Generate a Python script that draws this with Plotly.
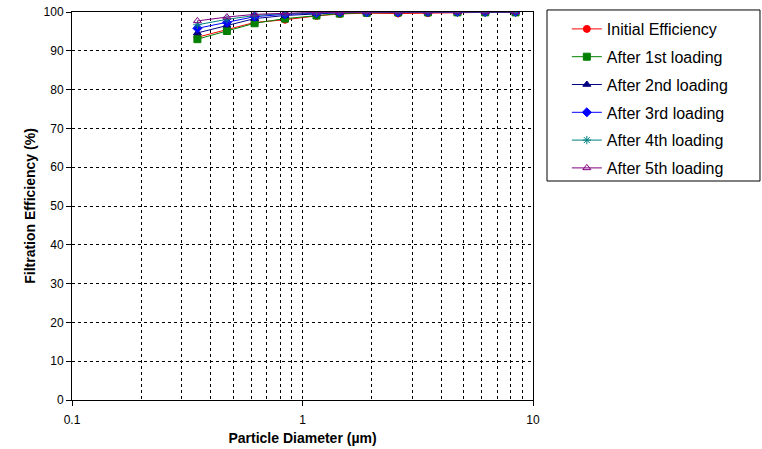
import plotly.graph_objects as go

diameter = [0.35, 0.47, 0.62, 0.84, 1.15, 1.45, 1.9, 2.6, 3.5, 4.7, 6.2, 8.4]
initial_eff = [93.5, 95.4, 97.3, 98.0, 99.0, 99.5, 99.7, 99.6, 99.7, 99.9, 99.9, 99.9]
after_1st = [93.0, 95.1, 97.1, 98.3, 99.1, 99.6, 99.8, 99.9, 99.9, 99.9, 99.9, 99.9]
after_2nd = [94.6, 96.6, 98.3, 99.1, 99.6, 99.8, 99.9, 99.9, 100, 100, 100, 100]
after_3rd = [95.8, 97.3, 98.8, 99.4, 99.7, 99.9, 99.9, 99.9, 100, 100, 100, 100]
after_4th = [96.7, 98.1, 99.1, 99.6, 99.8, 99.9, 99.9, 100, 100, 100, 100, 100]
after_5th = [97.7, 98.7, 99.4, 99.7, 99.9, 99.9, 100, 100, 100, 100, 100, 100]

series = [
    ("Initial Efficiency", initial_eff, "#FF0000", "circle"),
    ("After 1st loading", after_1st, "#008000", "square"),
    ("After 2nd loading", after_2nd, "#000080", "triangle-up"),
    ("After 3rd loading", after_3rd, "#0000FF", "diamond"),
    ("After 4th loading", after_4th, "#008080", "asterisk-open"),
    ("After 5th loading", after_5th, "#800080", "triangle-up-open"),
]

x_ticks = [0.1, 1, 10]
x_tick_text = ["0.1", "1", "10"]
x_minor = [0.2, 0.3, 0.4, 0.5, 0.6, 0.7, 0.8, 0.9, 1, 2, 3, 4, 5, 6, 7, 8, 9]
y_ticks = list(range(0, 101, 10))

fig = go.Figure()
for i, (name, vals, color, sym) in enumerate(series):
    fig.add_trace(go.Scatter(
        x=diameter, y=vals, name=name, mode="lines+markers",
        line=dict(color=color, width=1),
        marker=dict(symbol=sym, size=7, color=color,
                    line=dict(color=color, width=1)),
        legendgroup=f"g{i}",
    ))

# legend frame (wider than the auto-sized legend box)
fig.add_shape(type="rect", xref="paper", yref="paper",
              x0=1.0304, x1=1.4924, y0=0.5644, y1=1.0052,
              line=dict(color="black", width=1), fillcolor="rgba(0,0,0,0)",
              layer="above")

font_family = "Liberation Sans, Arial, sans-serif"
fig.update_layout(
    width=762, height=449,
    margin=dict(l=72, r=229, t=12, b=49),
    paper_bgcolor="white", plot_bgcolor="white",
    font=dict(family=font_family, size=12, color="black"),
    showlegend=True,
    legend=dict(
        x=1.03, y=1.0, xanchor="left", yanchor="top",
        borderwidth=0, bgcolor="rgba(0,0,0,0)",
        font=dict(size=16, family=font_family, color="black"),
        tracegroupgap=4, indentation=20,
    ),
    xaxis=dict(
        type="log", range=[-1, 1], automargin=False,
        tickmode="array", tickvals=x_ticks, ticktext=x_tick_text,
        ticks="outside", ticklen=5, tickcolor="black", ticklabelstandoff=4,
        ticklabeloverflow="allow",
        showline=True, linecolor="black", linewidth=1, mirror=True,
        showgrid=False, zeroline=False,
        minor=dict(tickmode="array", tickvals=x_minor, showgrid=True,
                   gridcolor="black", griddash="dot", gridwidth=1, ticks=""),
        title=dict(text="<b>Particle Diameter (µm)</b>", font=dict(size=14), standoff=6),
    ),
    yaxis=dict(
        range=[0, 100], tickmode="array", tickvals=y_ticks, automargin=False,
        ticks="outside", ticklen=5, tickcolor="black",
        ticklabeloverflow="allow",
        showline=True, linecolor="black", linewidth=1, mirror=True,
        showgrid=True, gridcolor="black", griddash="dot", gridwidth=1,
        zeroline=False,
        title=dict(text="<b>Filtration Efficiency (%)</b>", font=dict(size=14), standoff=4),
    ),
)

fig.write_html("out.html", config={"displayModeBar": False},
               post_script="document.body.style.margin='0';")
